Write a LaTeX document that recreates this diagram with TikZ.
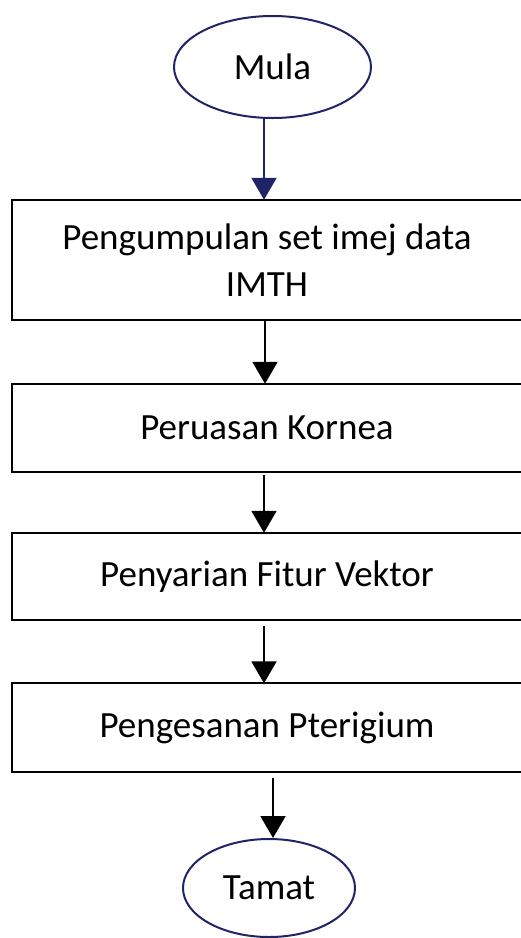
\documentclass[tikz,border=0pt]{standalone}
\usepackage{fontspec}
\setmainfont{Carlito}
\usepackage{tikz}
\usetikzlibrary{arrows.meta}
\usetikzlibrary{shapes.geometric}
\definecolor{mynavy}{RGB}{32,36,102}
\tikzset{%
  myedge/.style={-{Triangle[width=25pt,length=22pt]}, line width=2pt},
  mybox/.style={rectangle, minimum width=510pt, minimum height=88pt,
    align=center, inner sep=0pt, font=\fontsize{37}{47}\selectfont},
  myframe/.style={draw=black, line width=1.8pt},
  myterm/.style={ellipse, draw=mynavy, line width=2pt, inner sep=0pt,
    font=\fontsize{37}{47}\selectfont}
}

\begin{document}
\begin{tikzpicture}[x=1pt, y=-1pt]
  \useasboundingbox (0,0) rectangle (520,938);
  \node[myterm, minimum width=197pt, minimum height=102pt] (mula) at (272.5,67) {Mula};
  \node[mybox, minimum height=120pt] (b1) at (267,260) {Pengumpulan set imej data\\IMTH};
  \node[mybox] (b2) at (267,428) {Peruasan Kornea};
  \node[mybox, minimum height=87pt] (b3) at (267,576.5) {Penyarian Fitur Vektor};
  \node[mybox] (b4) at (267,727.5) {Pengesanan Pterigium};
  \node[myterm, minimum width=172pt, minimum height=98pt] (tamat) at (269,888) {Tamat};
  % boxes run off the right edge
  \foreach \b in {b1,b2,b3,b4}
    \draw[myframe] ([xshift=40pt]\b.north east) -| (\b.south west) -- ([xshift=40pt]\b.south east);
  \draw [myedge, mynavy] ([xshift=-3pt]mula.south -| b1.north) -- ([xshift=-3pt]b1.north);
  \draw [myedge] ([xshift=-2pt]b1.south) -- ([xshift=-2pt]b2.north);
  \draw [myedge] ([xshift=-3pt,yshift=-3pt]b2.south) -- ([xshift=-3pt]b3.north);
  \draw [myedge] ([xshift=-3pt,yshift=-6pt]b3.south) -- ([xshift=-3pt]b4.north);
  \draw [myedge] ([xshift=4pt,yshift=-6pt]b4.south -| tamat.north) -- ([xshift=4pt]tamat.north);
\end{tikzpicture}
\end{document}
